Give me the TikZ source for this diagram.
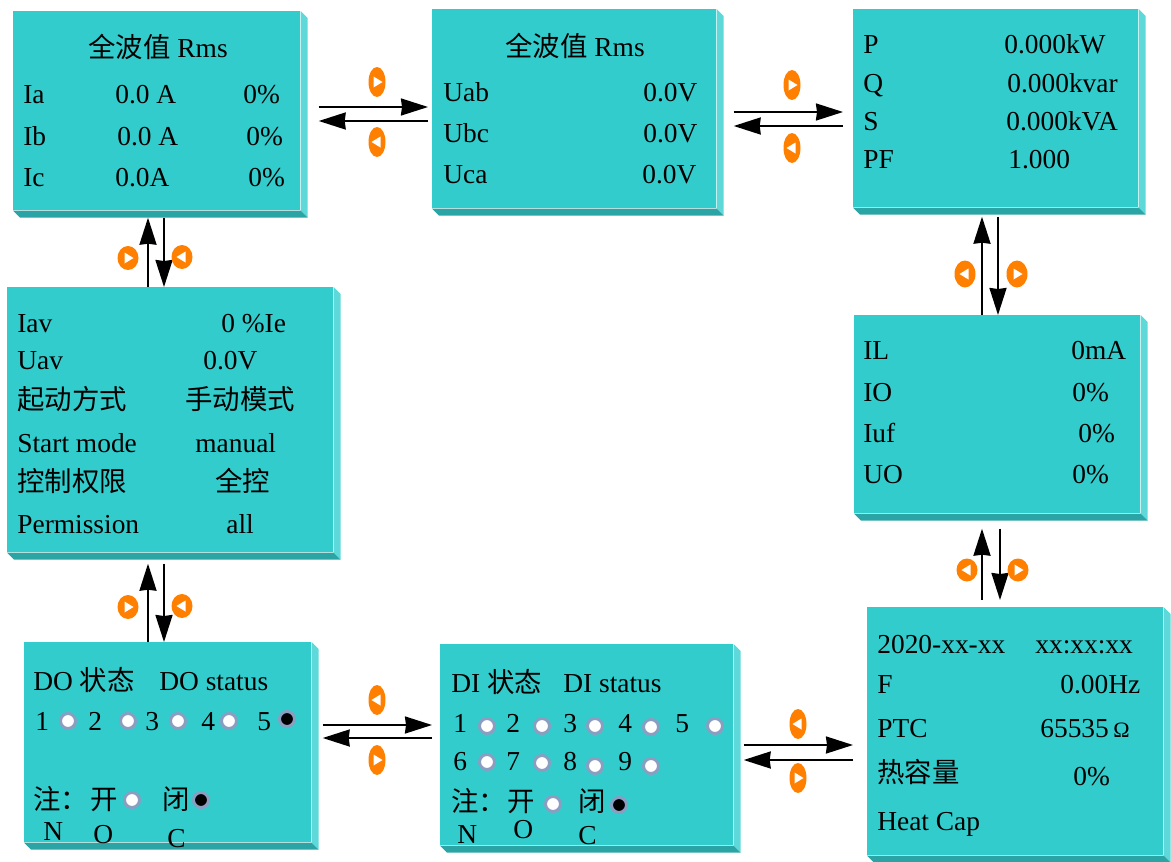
\documentclass[tikz,border=0pt]{standalone}
\usepackage{fontspec}
\setmainfont{Liberation Serif}
\newfontfamily\cjk{Noto Sans CJK SC}
\usepackage{tikz}
\usetikzlibrary{positioning}
\usetikzlibrary{shapes.geometric,calc,arrows.meta}
\definecolor{front}{HTML}{33CCCC}
\definecolor{sideface}{HTML}{5ED8D8}
\definecolor{bottomface}{HTML}{2AA4A4}
\definecolor{ring}{HTML}{8A9EC2}
\definecolor{badgeorange}{HTML}{FF8000}
\tikzset{
  panel/.style 2 args={fill=front, anchor=north west, inner sep=0pt,
    minimum width=#1*0.02cm, minimum height=#2*0.02cm},
  txt/.style={anchor=base west, inner sep=0pt, font=\fontsize{15.6}{18}\selectfont},
  arr/.style={-{Stealth[length=0.54cm,width=0.34cm,inset=0.02cm]}, line width=0.04cm},
  badge/.style 2 args={ellipse, fill=badgeorange, inner sep=0pt,
    minimum width=#1*0.02cm, minimum height=#2*0.02cm},
  badgeR/.style={path picture={\fill[white] ($(path picture bounding box.center)+(-3.5,-5.5)$)
    -- ++(9,5.5) -- ++(-9,5.5) -- cycle;}},
  badgeL/.style={path picture={\fill[white] ($(path picture bounding box.center)+(3.5,-5.5)$)
    -- ++(-9,5.5) -- ++(9,5.5) -- cycle;}},
  led/.style={circle, draw=ring, line width=0.06cm, fill=white, minimum size=0.3cm, inner sep=0pt},
  ledon/.style={led, fill=black},
}
\begin{document}
\begin{tikzpicture}[x=0.02cm,y=-0.02cm]
\useasboundingbox (0,0) rectangle (1171,862);
% panels
\node[panel={287}{199}] (rmsI) at (13,11) {};
\node[panel={284}{199}] (rmsU) at (432,9) {};
\node[panel={285}{198}] (pwr) at (853,9) {};
\node[panel={326}{265}] (avg) at (7,287) {};
\node[panel={286}{198}] (leak) at (854,315) {};
\node[panel={287}{200}] (dout) at (24,642) {};
\node[panel={293}{201}] (din) at (440,644) {};
\node[panel={296}{248}] (clock) at (867,607) {};
\foreach \n in {rmsI,rmsU,pwr,avg,leak,dout,din,clock}{
  \fill[sideface] (\n.north east) -- ++(7,7) -- ($(\n.south east)+(7,7)$) -- (\n.south east) -- cycle;
  \fill[bottomface] (\n.south west) -- ++(7,7) -- ($(\n.south east)+(7,7)$) -- (\n.south east) -- cycle;
}
% texts
\foreach \x/\y/\t [count=\i] in {88/57/{\cjk 全波值} Rms,
  23/103/Ia, 115/103/0.0 A, 243/103/0\%,
  23/145/Ib, 117/145/0.0 A, 246/145/0\%,
  23/186/Ic, 115/186/0.0A, 248/186/0\%}
  \node[txt] (ti\i) at (\x,\y) {\t};
\foreach \x/\y/\t [count=\i] in {505/56/{\cjk 全波值} Rms,
  443/101/Uab, 643/101/0.0V, 443/142/Ubc, 643/142/0.0V, 443/183/Uca, 642/183/0.0V}
  \node[txt] (tu\i) at (\x,\y) {\t};
\foreach \x/\y/\t [count=\i] in {863/53/P, 1004/53/0.000kW, 863/92/Q, 1007/92/0.000kvar,
  863/130/S, 1006/130/0.000kVA, 863/168/PF, 1008/168/1.000}
  \node[txt] (tp\i) at (\x,\y) {\t};
\foreach \x/\y/\t [count=\i] in {17/332/Iav, 221/332/0 \%Ie, 17/369/Uav, 203/369/0.0V,
  17/409/{\cjk 起动方式}, 185/409/{\cjk 手动模式}, 17/452/Start mode, 195/452/manual,
  17/491/{\cjk 控制权限}, 215/491/{\cjk 全控}, 17/533/Permission, 226/533/all}
  \node[txt] (ta\i) at (\x,\y) {\t};
\foreach \x/\y/\t [count=\i] in {863/359/IL, 1071/359/0mA, 863/401/IO, 1072/401/0\%,
  863/442/Iuf, 1078/442/0\%, 863/483/UO, 1072/483/0\%}
  \node[txt] (tl\i) at (\x,\y) {\t};
\foreach \x/\y/\t [count=\i] in {33/690/DO {\cjk 状态}, 159/690/DO status,
  35/730/1, 88/730/2, 145/730/3, 201/730/4, 257/730/5,
  33/809/{\cjk 注：}, 90/809/{\cjk 开}, 162/809/{\cjk 闭}, 43/840/N, 93/843/O, 167/847/C}
  \node[txt] (to\i) at (\x,\y) {\t};
\foreach \x/\y/\t [count=\i] in {451/692/DI {\cjk 状态}, 563/692/DI status,
  453/732/1, 506/732/2, 563/732/3, 618/732/4, 675/732/5,
  453/770/6, 506/770/7, 563/770/8, 618/770/9,
  451/811/{\cjk 注：}, 507/811/{\cjk 开}, 578/811/{\cjk 闭}, 457/843/N, 513/838/O, 578/844/C}
  \node[txt] (td\i) at (\x,\y) {\t};
\foreach \x/\y/\t [count=\i] in {877/653/2020-xx-xx, 1035/653/xx:xx:xx, 877/693/F, 1060/693/0.00Hz,
  877/737/PTC, 1040/737/65535\,{\fontsize{12.5}{14}\selectfont Ω},
  877/782/{\cjk 热容量}, 1073/785/0\%, 877/830/Heat Cap}
  \node[txt] (tc\i) at (\x,\y) {\t};
% status lamps
\foreach \x/\y [count=\i] in {68/721, 128/721, 178/721, 229/721, 132/800,
  487/726, 542/726, 595/726, 651/727, 715/726, 487/762, 542/763, 595/766, 651/766, 553/804}
  \node[led] (off\i) at (\x,\y) {};
\foreach \x/\y [count=\i] in {287/719, 201/800, 619/805}
  \node[ledon] (on\i) at (\x,\y) {};
% arrows
\draw[arr, shorten <=0.36cm, shorten >=0.08cm] (rmsI.east |- 0,107) -- (rmsU.west |- 0,107);
\draw[arr, shorten <=0.08cm, shorten >=0.36cm] (rmsU.west |- 0,121) -- (rmsI.east |- 0,121);
\draw[arr, shorten <=0.34cm, shorten >=0.2cm] (rmsU.east |- 0,112) -- (pwr.west |- 0,112);
\draw[arr, shorten <=0.2cm, shorten >=0.34cm] (pwr.west |- 0,126) -- (rmsU.east |- 0,126);
\draw[arr, shorten >=0.14cm] (avg.north -| 148,0) -- (rmsI.south -| 148,0);
\draw[arr, shorten <=0.14cm] (rmsI.south -| 164,0) -- (avg.north -| 164,0);
\draw[arr, shorten >=0.22cm] (dout.north -| 148,0) -- (avg.south -| 148,0);
\draw[arr, shorten <=0.22cm] (avg.south -| 164,0) -- (dout.north -| 164,0);
\draw[arr, shorten >=0.18cm] (leak.north -| 982,0) -- (pwr.south -| 982,0);
\draw[arr, shorten <=0.18cm] (pwr.south -| 998,0) -- (leak.north -| 998,0);
\draw[arr, shorten <=0.14cm, shorten >=0.3cm] (clock.north -| 982,0) -- (leak.south -| 982,0);
\draw[arr, shorten <=0.3cm, shorten >=0.14cm] (leak.south -| 1000,0) -- (clock.north -| 1000,0);
\draw[arr, shorten <=0.22cm, shorten >=0.16cm] (dout.east |- 0,725) -- (din.west |- 0,725);
\draw[arr, shorten <=0.16cm, shorten >=0.22cm] (din.west |- 0,738) -- (dout.east |- 0,738);
\draw[arr, shorten <=0.2cm, shorten >=0.28cm] (din.east |- 0,745) -- (clock.west |- 0,745);
\draw[arr, shorten <=0.28cm, shorten >=0.2cm] (clock.west |- 0,760) -- (din.east |- 0,760);
% badges
\node[badge={17}{30}, badgeR] (bA1) at (377,82) {};
\node[badge={17}{30}, badgeL] (bA2) at (377,142) {};
\node[badge={17}{30}, badgeR] (bB1) at (792,85) {};
\node[badge={17}{30}, badgeL] (bB2) at (792,148) {};
\node[badge={21}{24}, badgeR] (bC1) at (128,258) {};
\node[badge={21}{24}, badgeL] (bC2) at (182,257) {};
\node[badge={21}{24}, badgeR] (bD1) at (128,607) {};
\node[badge={21}{24}, badgeL] (bD2) at (182,606) {};
\node[badge={21}{27}, badgeL] (bE1) at (965,274) {};
\node[badge={21}{27}, badgeR] (bE2) at (1017,274) {};
\node[badge={21}{23}, badgeL] (bF1) at (967,570) {};
\node[badge={21}{23}, badgeR] (bF2) at (1018,570) {};
\node[badge={17}{30}, badgeL] (bG1) at (377,700) {};
\node[badge={17}{30}, badgeR] (bG2) at (377,760) {};
\node[badge={17}{30}, badgeL] (bH1) at (798,724) {};
\node[badge={17}{30}, badgeR] (bH2) at (798,778) {};
\end{tikzpicture}
\end{document}
